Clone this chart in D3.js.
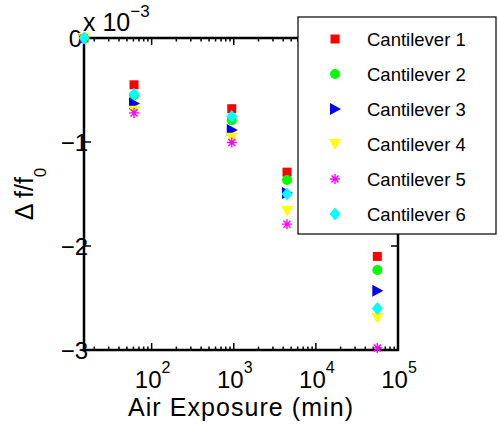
<!DOCTYPE html>
<html>
<head>
<meta charset="utf-8">
<script src="https://cdn.jsdelivr.net/npm/d3@7.9.0/dist/d3.min.js"></script>
<style>
  body { margin: 0; background: #fff; }
  svg { font-family: "Liberation Sans", Arial, sans-serif; }
</style>
</head>
<body>
<svg id="chart" width="499" height="424"></svg>
<script>
// air exposure times (min)
const times = [15, 61, 945, 4450, 56000];

// delta f / f0, in units of 1e-3
const series = [
  { name: "Cantilever 1", color: "#ff0000", symbol: "square",   values: [0, -0.45, -0.68, -1.29, -2.10] },
  { name: "Cantilever 2", color: "#00ff00", symbol: "circle",   values: [0, -0.55, -0.79, -1.365, -2.23] },
  { name: "Cantilever 3", color: "#0000ff", symbol: "right",    values: [0, -0.63, -0.885, -1.49, -2.43] },
  { name: "Cantilever 4", color: "#ffff00", symbol: "down",     values: [0, -0.70, -0.96, -1.66, -2.69] },
  { name: "Cantilever 5", color: "#ff00ff", symbol: "star",     values: [0, -0.72, -1.005, -1.79, -2.98] },
  { name: "Cantilever 6", color: "#00ffff", symbol: "diamond",  values: [0, -0.54, -0.755, -1.50, -2.60] }
];

const yTicks = [0, -1, -2, -3];
const xTicks = [100, 1000, 10000, 100000];

const svg = d3.select("#chart");
const plotL = 84, plotR = 398, plotT = 38, plotB = 350;

const x = d3.scaleLog().domain([15, 100000]).range([plotL, plotR]);
const y = d3.scaleLinear().domain([-3, 0]).range([plotB, plotT]);

// marker drawing
function marker(g, sym, color) {
  const s = 4.5;
  if (sym === "square") {
    g.append("rect").attr("x", -s).attr("y", -s).attr("width", 2 * s).attr("height", 2 * s).attr("fill", color);
  } else if (sym === "circle") {
    g.append("circle").attr("r", 5).attr("fill", color);
  } else if (sym === "right") {
    g.append("path").attr("d", "M-5,-6L6,0L-5,6Z").attr("fill", color);
  } else if (sym === "down") {
    g.append("path").attr("d", "M-6,-5L6,-5L0,6Z").attr("fill", color);
  } else if (sym === "diamond") {
    g.append("path").attr("d", "M0,-6.5L5.5,0L0,6.5L-5.5,0Z").attr("fill", color);
  } else if (sym === "star") {
    const r = 5;
    let d = "";
    for (let i = 0; i < 4; i++) {
      const a = i * Math.PI / 4;
      d += `M${-r * Math.cos(a)},${-r * Math.sin(a)}L${r * Math.cos(a)},${r * Math.sin(a)}`;
    }
    g.append("path").attr("d", d).attr("stroke", color).attr("stroke-width", 1.4);
  }
}

// axes box
const axisG = svg.append("g");
axisG.append("rect")
  .attr("x", plotL).attr("y", plotT)
  .attr("width", plotR - plotL).attr("height", plotB - plotT)
  .attr("fill", "none").attr("stroke", "#000").attr("stroke-width", 2.5);

// x ticks (major + minor) on bottom and top
const minor = [];
for (let e = 1; e <= 4; e++) {
  for (let m = 2; m <= 9; m++) {
    const v = m * Math.pow(10, e);
    if (v >= 15 && v < 100000) minor.push(v);
  }
}
[[plotB, -1], [plotT, 1]].forEach(([yy, dir]) => {
  axisG.selectAll(null).data(minor).join("line")
    .attr("x1", d => x(d)).attr("x2", d => x(d))
    .attr("y1", yy).attr("y2", yy + dir * 3.5)
    .attr("stroke", "#000").attr("stroke-width", 1.5);
  axisG.selectAll(null).data(xTicks).join("line")
    .attr("x1", d => x(d)).attr("x2", d => x(d))
    .attr("y1", yy).attr("y2", yy + dir * 7)
    .attr("stroke", "#000").attr("stroke-width", 1.5);
});

// y ticks on left and right
[[plotL, 1], [plotR, -1]].forEach(([xx, dir]) => {
  axisG.selectAll(null).data(yTicks).join("line")
    .attr("x1", xx).attr("x2", xx + dir * 7)
    .attr("y1", d => y(d)).attr("y2", d => y(d))
    .attr("stroke", "#000").attr("stroke-width", 1.5);
});

// x tick labels
const xl = axisG.selectAll(".xl").data(xTicks).join("text")
  .attr("class", "xl")
  .attr("x", d => x(d) + 1).attr("y", 388)
  .attr("text-anchor", "middle").attr("font-size", 24);
xl.append("tspan").text("10");
xl.append("tspan").attr("dy", -15).attr("font-size", 16).text(d => Math.round(Math.log10(d)));

// y tick labels
axisG.selectAll(".yl").data(yTicks).join("text")
  .attr("class", "yl")
  .attr("x", d => d === 0 ? plotL - 2 : plotL + 4).attr("y", d => y(d) + 8.5)
  .attr("text-anchor", "end").attr("font-size", 24)
  .text(d => d === 0 ? "0" : "\u2212" + Math.abs(d));

// exponent label
const ex = svg.append("text").attr("x", 83).attr("y", 31).attr("font-size", 25);
ex.append("tspan").text("x 10");
ex.append("tspan").attr("dy", -14).attr("font-size", 17).text("\u22123");

// axis titles
svg.append("text").attr("x", 128).attr("y", 416)
  .attr("font-size", 25).attr("textLength", 225).attr("lengthAdjust", "spacing")
  .text("Air Exposure (min)");
const yt = svg.append("text")
  .attr("transform", `translate(33,${(plotT + plotB) / 2}) rotate(-90)`)
  .attr("text-anchor", "middle").attr("font-size", 25);
yt.append("tspan").text("\u0394 f/f");
yt.append("tspan").attr("dy", 13).attr("font-size", 17).text("0");

// data points
series.forEach(s => {
  svg.append("g").selectAll("g").data(times.map((t, i) => [t, s.values[i]])).join("g")
    .attr("transform", d => `translate(${x(d[0])},${y(d[1])})`)
    .each(function () { marker(d3.select(this), s.symbol, s.color); });
});

// legend
const lg = svg.append("g");
lg.append("rect").attr("x", 298).attr("y", 17).attr("width", 198).attr("height", 217)
  .attr("fill", "#fff").attr("stroke", "#000").attr("stroke-width", 1.2);
series.forEach((s, i) => {
  const yy = 39 + i * 35;
  marker(lg.append("g").attr("transform", `translate(335,${yy})`), s.symbol, s.color);
  lg.append("text").attr("x", 367).attr("y", yy + 6.5).attr("font-size", 18.5).text(s.name);
});
</script>
</body>
</html>
